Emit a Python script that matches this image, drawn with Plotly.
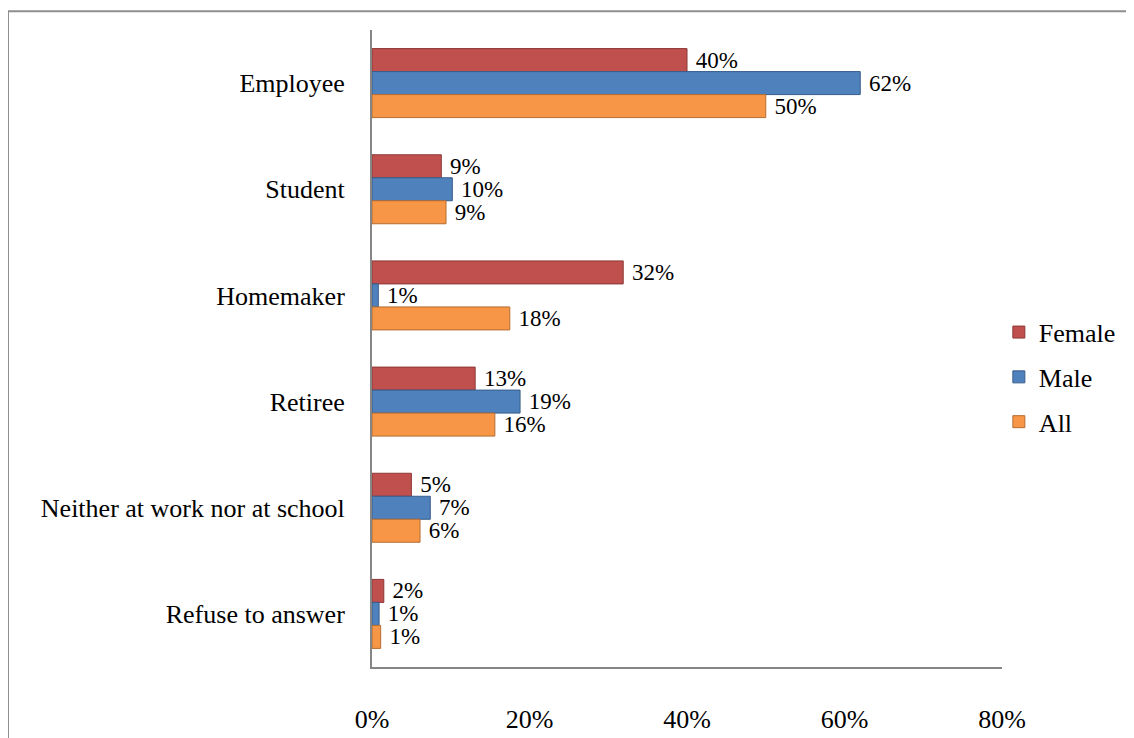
import plotly.graph_objects as go

categories = ['Employee', 'Student', 'Homemaker', 'Retiree',
              'Neither at work nor at school', 'Refuse to answer']
female = [40.0, 8.8, 31.9, 13.1, 5.0, 1.5]
male = [62.0, 10.2, 0.8, 18.8, 7.4, 0.9]
all_ = [50.0, 9.4, 17.5, 15.6, 6.1, 1.1]
female_lbl = ['40%', '9%', '32%', '13%', '5%', '2%']
male_lbl = ['62%', '10%', '1%', '19%', '7%', '1%']
all_lbl = ['50%', '9%', '18%', '16%', '6%', '1%']
x_ticks = [0, 20, 40, 60, 80]
x_tick_text = ['0%', '20%', '40%', '60%', '80%']

font = 'Liberation Serif, Times New Roman, serif'

fig = go.Figure()
series = [
    ('Female', female, female_lbl, '#C0504D', '#8C3836'),
    ('Male', male, male_lbl, '#4F81BD', '#385D8A'),
    ('All', all_, all_lbl, '#F79646', '#B66D31'),
]
for name, vals, lbls, color, edge in series:
    fig.add_trace(go.Bar(
        name=name,
        y=categories,
        x=vals,
        orientation='h',
        text=['\u00a0' + t for t in lbls],
        textposition='outside',
        constraintext='none',
        cliponaxis=False,
        textfont=dict(family=font, size=23, color='black'),
        marker=dict(color=color, line=dict(color=edge, width=1)),
        legendgroup=name,
    ))

# page body adds 8px offset, so the margins are shifted by that
fig.update_layout(
    width=1134, height=738,
    barmode='group',
    bargap=0.35,
    bargroupgap=0,
    plot_bgcolor='white',
    paper_bgcolor='white',
    font=dict(family=font, size=26, color='black'),
    margin=dict(l=364, r=140, t=22, b=73),
    legend=dict(x=0.995, y=0.455, xanchor='left', yanchor='middle',
                font=dict(size=26), tracegroupgap=8,
                itemwidth=30),
    showlegend=True,
)
fig.update_xaxes(range=[0, 80], tickvals=x_ticks, ticktext=x_tick_text,
                 showgrid=False, zeroline=False, showline=True,
                 linecolor='#868686', linewidth=2, ticks='',
                 ticklabelstandoff=28)
fig.update_yaxes(autorange='reversed', showgrid=False, showline=True,
                 linecolor='#868686', linewidth=2, ticks='',
                 ticklabelstandoff=20)

# outer chart border
fig.add_shape(type='rect', xref='paper', yref='paper',
              x0=(0 - 364) / 630, x1=1.4, y0=-0.3, y1=(665 - 3) / 643,
              line=dict(color='#8E8E8E', width=2), layer='below')

fig.write_html('out.html')
